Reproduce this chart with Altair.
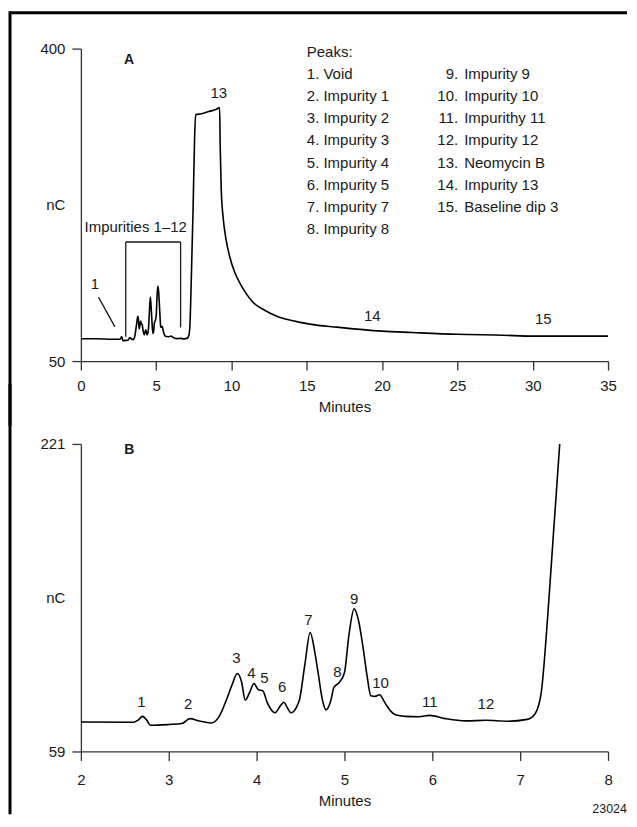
import altair as alt
import pandas as pd

FONT = "Liberation Sans"

# ---- chromatogram trace (minutes, nC) ----
time_min = [0.0, 1.0, 2.0, 2.6, 2.65, 2.70, 2.75, 2.79, 3.0, 3.15, 3.24, 3.35, 3.48,
            3.57, 3.66, 3.72, 3.78, 3.83, 3.87, 3.92, 3.97, 4.02, 4.07, 4.12, 4.21,
            4.27, 4.31, 4.35, 4.39, 4.45, 4.49, 4.55, 4.61, 4.66, 4.70, 4.75, 4.79,
            4.84, 4.88, 4.94, 5.00, 5.05, 5.11, 5.16, 5.21, 5.26, 5.30, 5.35, 5.40,
            5.45, 5.48, 5.58, 5.69, 5.85, 5.97, 6.15, 6.38, 6.61, 6.85, 7.08, 7.17,
            7.24, 7.31, 7.38, 7.45, 7.55, 7.62, 8.0, 8.5, 9.0, 9.21, 9.25, 9.32,
            9.45, 9.6, 9.87, 10.2, 10.54, 11.0, 11.42, 12.2, 12.97, 14.0, 15.2,
            17.0, 20.0, 22.0, 25.0, 28.0, 30.0, 35.0]
signal_nc = [75.0, 75.0, 74.5, 74.4, 75.5, 77.5, 75.5, 72.8, 73.2, 73.7, 76.3, 75.0, 74.0,
             77.1, 86.6, 94.0, 100.1, 95.5, 86.1, 90.0, 94.8, 91.5, 91.0, 84.9, 79.4,
             83.0, 84.9, 82.0, 79.4, 82.0, 86.6, 105.0, 121.7, 112.0, 100.5, 86.0, 80.9,
             85.0, 92.7, 95.3, 100.5, 120.0, 134.1, 128.0, 114.3, 98.0, 88.4, 88.0, 88.9,
             85.5, 83.2, 78.3, 77.5, 77.3, 78.0, 76.3, 75.1, 75.4, 74.9, 75.9, 78.9,
             90.1, 128.1, 174.7, 221.0, 300.0, 326.0, 327.0, 329.5, 332.0, 334.0, 290.0, 242.0,
             210.0, 190.0, 167.7, 150.0, 138.0, 125.0, 116.0, 107.0, 100.6, 95.5, 91.4,
             88.0, 83.5, 82.0, 80.0, 79.0, 78.0, 78.0]

# ---- panel A annotations ----
a_label_text = ["1", "13", "14", "15", "Impurities 1\u201312"]
a_label_x = [0.93, 9.16, 19.35, 30.7, 3.64]
a_label_y = [136.0, 350.7, 100.7, 97.0, 199.8]

# bracket + leader line segments (x, y) -> (x2, y2)
seg_x = [2.98, 2.98, 6.62, 1.17]
seg_y = [183.4, 183.4, 183.4, 121.6]
seg_x2 = [6.62, 2.98, 6.62, 2.26]
seg_y2 = [183.4, 77.2, 87.7, 88.3]

peaks_col1 = ["Peaks:", "1. Void", "2. Impurity 1", "3. Impurity 2", "4. Impurity 3",
              "5. Impurity 4", "6. Impurity 5", "7. Impurity 7", "8. Impurity 8"]
peaks_col2_num = ["9.", "10.", "11.", "12.", "13.", "14.", "15."]
peaks_col2_name = ["Impurity 9", "Impurity 10", "Impurithy 11", "Impurity 12",
                   "Neomycin B", "Impurity 13", "Baseline dip 3"]

# ---- panel B annotations ----
b_label_text = ["1", "2", "3", "4", "5", "6", "7", "8", "9", "10", "11", "12"]
b_label_x = [2.69, 3.22, 3.77, 3.94, 4.09, 4.29, 4.59, 4.92, 5.11, 5.41, 5.97, 6.61]
b_label_y = [84.9, 84.0, 108.2, 100.4, 97.9, 92.7, 128.4, 100.8, 139.3, 95.3, 84.9, 84.0]

A_W, A_H = 528, 313
B_W, B_H = 528, 308
FS = 15
INK = "#1a1a1a"

trace = pd.DataFrame({"t": time_min, "nC": signal_nc})


def x_axis(vals, pad):
    return alt.Axis(values=vals, title="Minutes", tickSize=9, labelPadding=pad,
                    titlePadding=6, labelFlush=False, grid=False, format="d")


def y_axis(vals, h):
    return alt.Axis(values=vals, title="nC", tickSize=9, labelPadding=7, grid=False,
                    labelFlush=False, titleAngle=0, titleAlign="right",
                    titleBaseline="middle", titleX=-16, titleY=h / 2, format="d")


# ===== Panel A =====
xa = alt.Scale(domain=[0, 35], nice=False, zero=False)
ya = alt.Scale(domain=[50, 400], nice=False, zero=False)

lineA = alt.Chart(trace).mark_line(color="black", strokeWidth=1.6, interpolate="monotone").encode(
    x=alt.X("t:Q", scale=xa, axis=x_axis(list(range(0, 36, 5)), 8)),
    y=alt.Y("nC:Q", scale=ya, axis=y_axis([50, 400], A_H)),
)

labA = alt.Chart(pd.DataFrame({"t": a_label_x, "nC": a_label_y, "s": a_label_text})).mark_text(
    fontSize=FS, font=FONT, color=INK, baseline="middle").encode(
    x=alt.X("t:Q", scale=xa), y=alt.Y("nC:Q", scale=ya), text="s:N")

segA = alt.Chart(pd.DataFrame({"x": seg_x, "y": seg_y, "x2": seg_x2, "y2": seg_y2})).mark_rule(
    color=INK, strokeWidth=1.3).encode(
    x=alt.X("x:Q", scale=xa), y=alt.Y("y:Q", scale=ya), x2="x2:Q", y2="y2:Q")

step = 22.2 * 350 / A_H
col1 = pd.DataFrame({"s": peaks_col1, "t": [15.0] * len(peaks_col1),
                     "nC": [396.5 - i * step for i in range(len(peaks_col1))]})
col2n = pd.DataFrame({"s": peaks_col2_num, "t": [25.05] * len(peaks_col2_num),
                      "nC": [396.5 - (i + 1) * step for i in range(len(peaks_col2_num))]})
col2s = pd.DataFrame({"s": peaks_col2_name, "t": [25.45] * len(peaks_col2_name),
                      "nC": [396.5 - (i + 1) * step for i in range(len(peaks_col2_name))]})

leg1 = alt.Chart(col1).mark_text(fontSize=FS, font=FONT, color=INK, align="left",
                                 baseline="middle").encode(
    x=alt.X("t:Q", scale=xa), y=alt.Y("nC:Q", scale=ya), text="s:N")
leg2 = alt.Chart(col2n).mark_text(fontSize=FS, font=FONT, color=INK, align="right",
                                  baseline="middle").encode(
    x=alt.X("t:Q", scale=xa), y=alt.Y("nC:Q", scale=ya), text="s:N")
leg3 = alt.Chart(col2s).mark_text(fontSize=FS, font=FONT, color=INK, align="left",
                                  baseline="middle").encode(
    x=alt.X("t:Q", scale=xa), y=alt.Y("nC:Q", scale=ya), text="s:N")

tagA = alt.Chart(pd.DataFrame({"t": [3.2], "nC": [387.7], "s": ["A"]})).mark_text(
    fontSize=14, font=FONT, fontWeight="bold", color=INK, baseline="middle").encode(
    x=alt.X("t:Q", scale=xa), y=alt.Y("nC:Q", scale=ya), text="s:N")

# frame lines (top and left)
frame_top = alt.Chart(pd.DataFrame({"k": [0]})).mark_rule(color="black", strokeWidth=3).encode(
    x=alt.value(-71), x2=alt.value(547), y=alt.value(-36))
frame_left_a = alt.Chart(pd.DataFrame({"k": [0]})).mark_rule(color="black", strokeWidth=3).encode(
    x=alt.value(-71), y=alt.value(-37.5), y2=alt.value(A_H + 65))

panelA = alt.layer(frame_top, frame_left_a, lineA, segA, labA, leg1, leg2, leg3, tagA).properties(
    width=A_W, height=A_H)

# ===== Panel B =====
xb = alt.Scale(domain=[2, 8], nice=False, zero=False)
yb = alt.Scale(domain=[59, 221], nice=False, zero=False)

traceB = trace[(trace.t >= 2.0) & (trace.t <= 7.7)]
lineB = alt.Chart(traceB).mark_line(color="black", strokeWidth=1.6, clip=True,
                                    interpolate="monotone").encode(
    x=alt.X("t:Q", scale=xb, axis=x_axis(list(range(2, 9)), 12)),
    y=alt.Y("nC:Q", scale=yb, axis=y_axis([59, 221], B_H)),
)
labB = alt.Chart(pd.DataFrame({"t": b_label_x, "nC": b_label_y, "s": b_label_text})).mark_text(
    fontSize=FS, font=FONT, color=INK, baseline="middle").encode(
    x=alt.X("t:Q", scale=xb), y=alt.Y("nC:Q", scale=yb), text="s:N")
tagB = alt.Chart(pd.DataFrame({"t": [2.55], "nC": [218.0], "s": ["B"]})).mark_text(
    fontSize=14, font=FONT, fontWeight="bold", color=INK, baseline="middle").encode(
    x=alt.X("t:Q", scale=xb), y=alt.Y("nC:Q", scale=yb), text="s:N")
code = alt.Chart(pd.DataFrame({"s": ["23024"]})).mark_text(
    fontSize=12.5, font=FONT, color=INK, align="right", baseline="middle").encode(
    x=alt.value(547), y=alt.value(366), text="s:N")
frame_left_b = alt.Chart(pd.DataFrame({"k": [0]})).mark_rule(color="black", strokeWidth=3).encode(
    x=alt.value(-71), y=alt.value(-60), y2=alt.value(371))

panelB = alt.layer(frame_left_b, lineB, labB, tagB, code).properties(width=B_W, height=B_H)

chart = alt.vconcat(panelA, panelB, spacing=83, bounds="flush").properties(
    padding={"left": 0, "top": 1, "right": 0, "bottom": 0}
).configure(font=FONT).configure_view(stroke=None).configure_axis(
    labelFont=FONT, titleFont=FONT, labelFontSize=FS, titleFontSize=FS,
    titleFontWeight="normal", labelColor=INK, titleColor=INK,
    domainColor="#333", tickColor="#333", domainWidth=1.3, tickWidth=1.3,
)

chart.save("out.html", embed_options={"renderer": "svg", "actions": False})
